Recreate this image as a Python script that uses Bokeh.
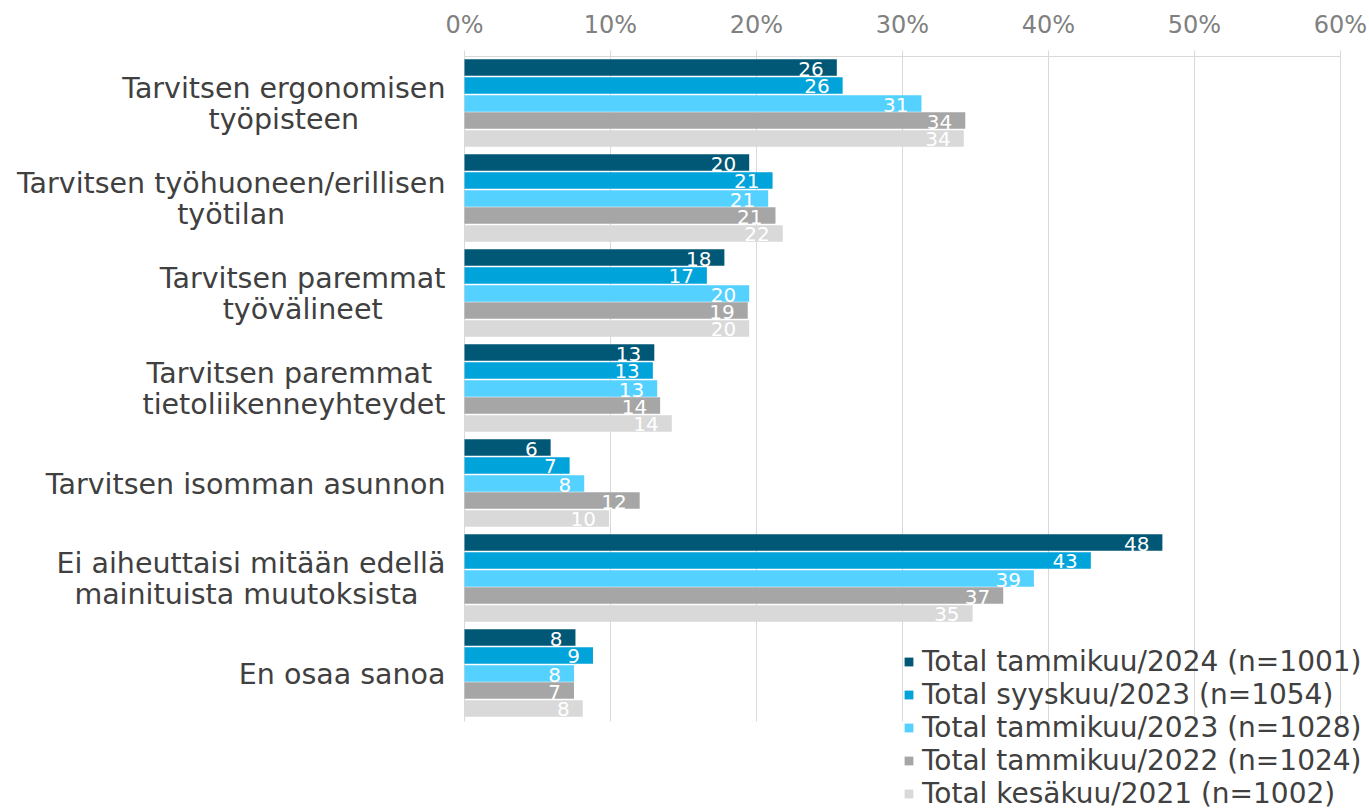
import glob
from bokeh.plotting import figure
from bokeh.models import Range1d, ColumnDataSource, Legend, LegendItem, PrintfTickFormatter, FixedTicker
from bokeh.transform import dodge
from bokeh.core.properties import value
from bokeh.embed import file_html
from bokeh.resources import INLINE

categories = [
    "Tarvitsen ergonomisen\ntyöpisteen",
    "Tarvitsen työhuoneen/erillisen\ntyötilan",
    "Tarvitsen paremmat\ntyövälineet",
    "Tarvitsen paremmat \ntietoliikenneyhteydet",
    "Tarvitsen isomman asunnon",
    "Ei aiheuttaisi mitään edellä\nmainituista muutoksista ",
    "En osaa sanoa",
]

series_names = [
    "Total tammikuu/2024 (n=1001)",
    "Total syyskuu/2023 (n=1054)",
    "Total tammikuu/2023 (n=1028)",
    "Total tammikuu/2022 (n=1024)",
    "Total kesäkuu/2021 (n=1002)",
]

# bar lengths (percent)
tammikuu_2024 = [25.5, 19.5, 17.8, 13.0, 5.9, 47.8, 7.6]
syyskuu_2023 = [25.9, 21.1, 16.6, 12.9, 7.2, 42.9, 8.8]
tammikuu_2023 = [31.3, 20.8, 19.5, 13.2, 8.2, 39.0, 7.5]
tammikuu_2022 = [34.3, 21.3, 19.4, 13.4, 12.0, 36.9, 7.5]
kesakuu_2021 = [34.2, 21.8, 19.5, 14.2, 9.9, 34.8, 8.1]

# data labels as printed on the bars
lab_tammikuu_2024 = ["26", "20", "18", "13", "6", "48", "8"]
lab_syyskuu_2023 = ["26", "21", "17", "13", "7", "43", "9"]
lab_tammikuu_2023 = ["31", "21", "20", "13", "8", "39", "8"]
lab_tammikuu_2022 = ["34", "21", "19", "14", "12", "37", "7"]
lab_kesakuu_2021 = ["34", "22", "20", "14", "10", "35", "8"]

x_ticks = [0, 10, 20, 30, 40, 50, 60]

colors = ["#005776", "#00A3DA", "#55D1FF", "#A6A6A6", "#D9D9D9"]
series_values = [tammikuu_2024, syyskuu_2023, tammikuu_2023, tammikuu_2022, kesakuu_2021]
series_labels = [lab_tammikuu_2024, lab_syyskuu_2023, lab_tammikuu_2023, lab_tammikuu_2022, lab_kesakuu_2021]

FONT = "DejaVu Sans"
CAT_SIZE = 28.5
CAT_GAP = 19

# measure category label widths so that multi-line labels can be centred
def text_width(s, size):
    try:
        from PIL import ImageFont
        paths = (glob.glob("/usr/share/fonts/**/DejaVuSans.ttf", recursive=True)
                 + glob.glob("/usr/**/DejaVuSans.ttf", recursive=True))
        f = ImageFont.truetype(paths[0], size=int(round(size)))
        return f.getlength(s) * size / int(round(size))
    except Exception:
        return len(s) * size * 0.58

n = len(categories)
ypos = [n - 1 - k for k in range(n)]  # first category on top
cat_offsets = [-(CAT_GAP + max(text_width(line, CAT_SIZE) for line in c.split("\n")) / 2)
               for c in categories]

data = {"cat": categories, "y": ypos, "x0": [0] * n, "cat_off": cat_offsets}
for i, (v, l) in enumerate(zip(series_values, series_labels)):
    data[f"v{i}"] = v
    data[f"l{i}"] = l
source = ColumnDataSource(data)

PX_PER_UNIT = 14.6
W, H = 1369, 810
LEFT = 464
TOP = 56
BAND = 95
p = figure(
    width=W, height=H,
    y_range=Range1d((n - 0.5) - (H - TOP) / BAND, n - 0.5),
    x_range=Range1d(-LEFT / PX_PER_UNIT, (W - LEFT) / PX_PER_UNIT),
    x_axis_location="above",
    output_backend="svg",
    toolbar_location=None,
    min_border_left=0, min_border_right=0,
    min_border_top=TOP, min_border_bottom=0,
)
p.outline_line_color = None
p.yaxis.visible = False

# vertical gridlines limited to the category area
p.segment(x0=x_ticks, x1=x_ticks, y0=[min(ypos) - 0.5] * len(x_ticks),
          y1=[max(ypos) + 0.5] * len(x_ticks), line_color="#D9D9D9", line_width=1)

# category labels (centred lines, right edge next to the bars)
p.text(x="x0", y="y", text="cat", source=source, x_offset="cat_off",
       text_align="center", text_baseline="middle", text_color="#404040",
       text_font_size=f"{CAT_SIZE}px", text_font=value(FONT), text_line_height=0.95)

offsets = [0.384, 0.195, 0.005, -0.174, -0.363]
items = []
for i in range(5):
    r = p.hbar(y=dodge("y", offsets[i]), left=0, right=f"v{i}",
               height=0.174, source=source, fill_color=colors[i], line_color=None)
    items.append(LegendItem(label=series_names[i], renderers=[r]))
    p.text(x=f"v{i}", y=dodge("y", offsets[i]), text=f"l{i}",
           source=source, text_align="right", text_baseline="middle",
           x_offset=-13, y_offset=1, text_color="white", text_font_size="20px",
           text_font=value(FONT))

p.xaxis.ticker = FixedTicker(ticks=x_ticks)
p.xaxis.bounds = (0, 60)
p.xaxis.formatter = PrintfTickFormatter(format="%d%%")
p.xaxis.axis_line_color = "#D9D9D9"
p.xaxis.major_tick_line_color = "#D9D9D9"
p.xaxis.major_tick_out = 6
p.xaxis.major_tick_in = 0
p.xaxis.minor_tick_line_color = None
p.xaxis.major_label_text_color = "#808080"
p.xaxis.major_label_text_font = FONT
p.xaxis.major_label_text_font_size = "24px"
p.xaxis.major_label_standoff = 12

p.xgrid.grid_line_color = None
p.ygrid.grid_line_color = None

legend = Legend(items=items, location=(903, 0),
                label_text_font=FONT, label_text_font_size="28px",
                label_text_color="#404040", glyph_width=11, glyph_height=11,
                label_standoff=8, spacing=-2, padding=0, margin=0,
                label_height=31, border_line_color=None, background_fill_alpha=0)
p.add_layout(legend)

open("out.html", "w").write(file_html(p, INLINE))
